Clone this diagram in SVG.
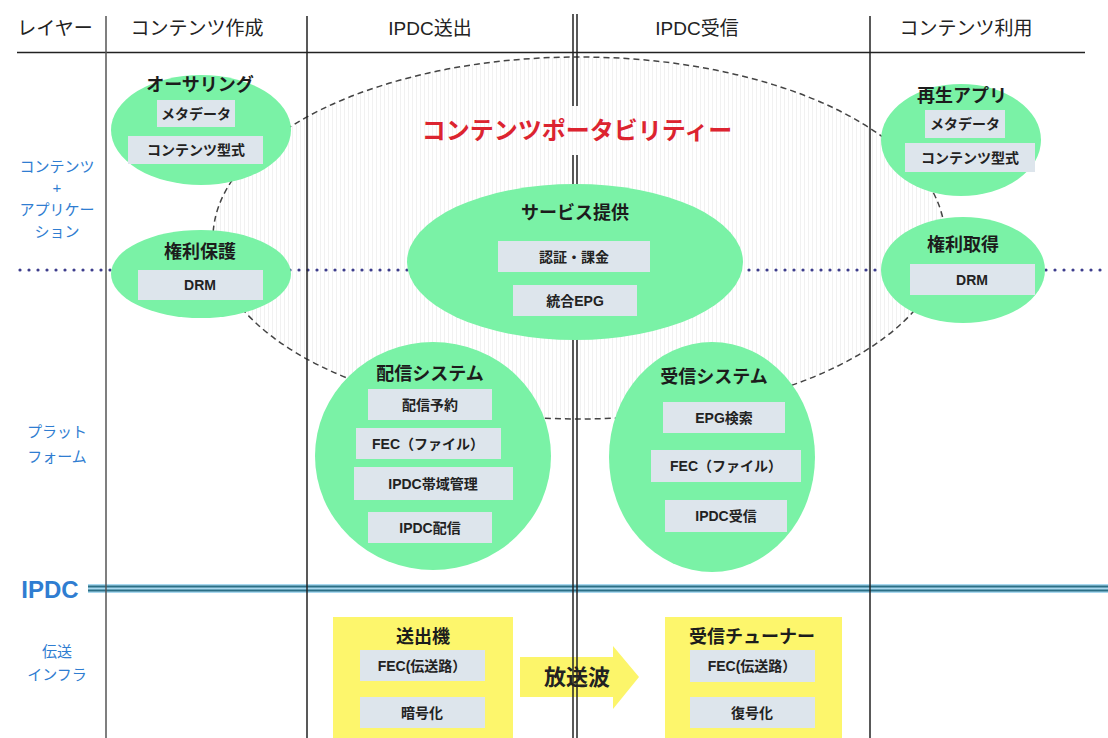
<svg xmlns="http://www.w3.org/2000/svg" width="1108" height="738" viewBox="0 0 1108 738">
<defs>
<pattern id="stripes" width="4" height="4" patternUnits="userSpaceOnUse">
<rect width="4" height="4" fill="#ffffff"/>
<rect x="0" y="0" width="1" height="4" fill="#f1f1f1"/>
</pattern>
<style>
text{font-family:"Liberation Sans","Noto Sans CJK JP",sans-serif;text-anchor:middle;}
.hdr{font-size:19px;fill:#222;}
.lay{font-size:15px;fill:#2f7dd1;}
.ttl{font-size:18px;font-weight:bold;fill:#1c1c1c;}
.box{fill:#dde5ec;}
.bt{font-size:14px;font-weight:bold;fill:#222;}
.ell{fill:#7af2a6;}
.yel{fill:#fdf66c;}
.vl{stroke:#222;stroke-width:1.5;fill:none;}
</style>
</defs>
<rect width="1108" height="738" fill="#ffffff"/>

<!-- portability area -->
<g id="portability">
<ellipse cx="579" cy="238" rx="366" ry="181" fill="url(#stripes)" stroke="#444" stroke-width="1.5" stroke-dasharray="6 4"/>
</g>

<g id="connectors">
<!-- layer dotted line -->
<line x1="20" y1="270" x2="1108" y2="270" stroke="#3d3d8c" stroke-width="3.2" stroke-linecap="round" stroke-dasharray="0 9"/>
<!-- IPDC line -->
<rect x="88" y="584" width="1020" height="9" fill="#a9d8ef"/>
<line x1="88" y1="586.5" x2="1108" y2="586.5" stroke="#2b6f86" stroke-width="2"/>
<line x1="88" y1="590.5" x2="1108" y2="590.5" stroke="#2b6f86" stroke-width="2"/>
<!-- broadcast arrow -->
<polygon points="520,657 613,657 613,646 639,677 613,709 613,697 520,697" fill="#fcf56a"/>
</g>

<!-- grid lines -->
<g id="grid">
<line x1="17" y1="52.5" x2="1085" y2="52.5" stroke="#222" stroke-width="1.5"/>
<line x1="106" y1="16" x2="106" y2="738" stroke="#555" stroke-width="1.5"/>
<line class="vl" x1="307" y1="16" x2="307" y2="738"/>
<line class="vl" x1="573" y1="14" x2="573" y2="106"/>
<line class="vl" x1="577" y1="14" x2="577" y2="106"/>
<line class="vl" x1="573" y1="155" x2="573" y2="738"/>
<line class="vl" x1="577" y1="155" x2="577" y2="738"/>
<line class="vl" x1="870" y1="16" x2="870" y2="738"/>
</g>

<g id="headers">
<text class="hdr" x="55" y="35">レイヤー</text>
<text class="hdr" x="197" y="35">コンテンツ作成</text>
<text class="hdr" x="430" y="35">IPDC送出</text>
<text class="hdr" x="697" y="35">IPDC受信</text>
<text class="hdr" x="966" y="35">コンテンツ利用</text>
</g>

<g id="layers">
<text class="lay" x="57" y="172">コンテンツ</text>
<text class="lay" x="57" y="193">+</text>
<text class="lay" x="57" y="215">アプリケー</text>
<text class="lay" x="57" y="237">ション</text>
<text class="lay" x="57" y="437">プラット</text>
<text class="lay" x="57" y="462">フォーム</text>
<text x="50" y="598" style="font-size:24px;font-weight:bold;fill:#2f7dd1;">IPDC</text>
<text class="lay" x="57" y="657">伝送</text>
<text class="lay" x="57" y="680">インフラ</text>
</g>

<text x="577" y="139" style="font-size:24px;font-weight:bold;fill:#dc2430;">コンテンツポータビリティー</text>

<g id="authoring">
<ellipse class="ell" cx="201" cy="130" rx="90" ry="55"/>
<text class="ttl" x="200" y="91">オーサリング</text>
<rect class="box" x="157" y="100" width="78" height="27"/>
<text class="bt" x="196" y="119">メタデータ</text>
<rect class="box" x="128" y="136" width="135" height="28"/>
<text class="bt" x="196" y="155">コンテンツ型式</text>
</g>

<g id="rights-protect">
<ellipse class="ell" cx="201" cy="274" rx="90" ry="44"/>
<text class="ttl" x="200" y="258">権利保護</text>
<rect class="box" x="138" y="270" width="125" height="30"/>
<text class="bt" x="200" y="290">DRM</text>
</g>

<g id="service">
<ellipse class="ell" cx="575" cy="262" rx="168" ry="78"/>
<text class="ttl" x="575" y="219">サービス提供</text>
<rect class="box" x="498" y="241" width="152" height="31"/>
<text class="bt" x="574" y="262">認証・課金</text>
<rect class="box" x="513" y="285" width="124" height="31"/>
<text class="bt" x="575" y="306">統合EPG</text>
</g>

<g id="player">
<ellipse class="ell" cx="961" cy="140" rx="80" ry="56"/>
<text class="ttl" x="962" y="102">再生アプリ</text>
<rect class="box" x="925" y="110" width="80" height="28"/>
<text class="bt" x="965" y="129">メタデータ</text>
<rect class="box" x="905" y="143" width="130" height="29"/>
<text class="bt" x="970" y="163">コンテンツ型式</text>
</g>

<g id="rights-acquire">
<ellipse class="ell" cx="963" cy="270" rx="82" ry="53"/>
<text class="ttl" x="963" y="251">権利取得</text>
<rect class="box" x="910" y="264" width="125" height="31"/>
<text class="bt" x="972" y="285">DRM</text>
</g>

<g id="delivery">
<ellipse class="ell" cx="433" cy="456" rx="118" ry="114"/>
<text class="ttl" x="430" y="380">配信システム</text>
<rect class="box" x="368" y="389" width="124" height="31"/>
<text class="bt" x="430" y="410">配信予約</text>
<rect class="box" x="356" y="428" width="145" height="31"/>
<text class="bt" x="428" y="449">FEC（ファイル）</text>
<rect class="box" x="354" y="467" width="159" height="33"/>
<text class="bt" x="433" y="489">IPDC帯域管理</text>
<rect class="box" x="368" y="512" width="124" height="31"/>
<text class="bt" x="430" y="533">IPDC配信</text>
</g>

<g id="reception">
<ellipse class="ell" cx="712" cy="457" rx="103" ry="115"/>
<text class="ttl" x="714" y="383">受信システム</text>
<rect class="box" x="663" y="402" width="122" height="31"/>
<text class="bt" x="724" y="423">EPG検索</text>
<rect class="box" x="651" y="450" width="150" height="32"/>
<text class="bt" x="726" y="471">FEC（ファイル）</text>
<rect class="box" x="665" y="500" width="122" height="32"/>
<text class="bt" x="726" y="521">IPDC受信</text>
</g>

<g id="transmitter">
<rect class="yel" x="333" y="617" width="180" height="121"/>
<text class="ttl" x="423" y="643">送出機</text>
<rect class="box" x="360" y="650" width="125" height="31"/>
<text class="bt" x="422" y="671">FEC(伝送路）</text>
<rect class="box" x="360" y="697" width="125" height="31"/>
<text class="bt" x="422" y="718">暗号化</text>
</g>

<text x="577" y="685" style="font-size:22px;font-weight:bold;fill:#222;">放送波</text>

<g id="tuner">
<rect class="yel" x="665" y="617" width="177" height="121"/>
<text class="ttl" x="752" y="643">受信チューナー</text>
<rect class="box" x="690" y="650" width="125" height="32"/>
<text class="bt" x="752" y="671">FEC(伝送路）</text>
<rect class="box" x="690" y="697" width="125" height="31"/>
<text class="bt" x="752" y="718">復号化</text>
</g>
</svg>
